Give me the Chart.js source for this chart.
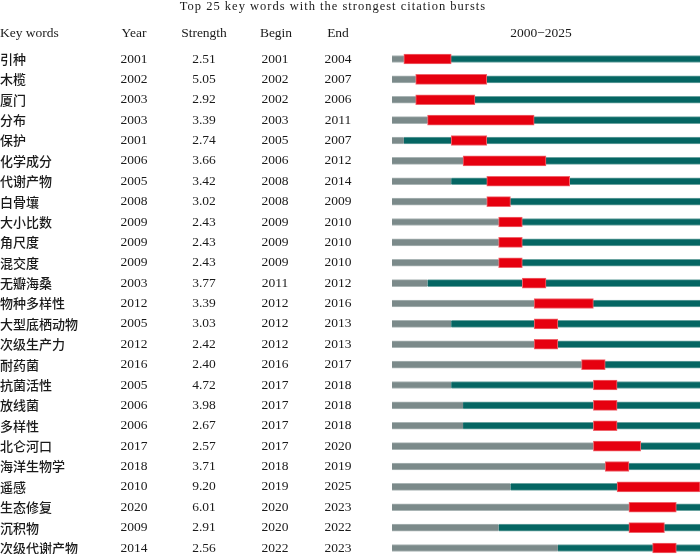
<!DOCTYPE html>
<html>
<head>
<meta charset="utf-8">
<script src="https://cdn.jsdelivr.net/npm/chart.js@4/dist/chart.umd.min.js"></script>
<style>
  html, body { margin: 0; padding: 0; background: #fff; }
  #wrap { width: 700px; height: 554px; }
</style>
</head>
<body>
<div id="wrap"><canvas id="burstChart" width="700" height="554"></canvas></div>
<script>
// keyword burst table
var keywords = ['引种', '木榄', '厦门', '分布', '保护', '化学成分', '代谢产物', '白骨壤', '大小比数', '角尺度',
    '混交度', '无瓣海桑', '物种多样性', '大型底栖动物', '次级生产力', '耐药菌', '抗菌活性', '放线菌', '多样性',
    '北仑河口', '海洋生物学', '遥感', '生态修复', '沉积物', '次级代谢产物'];
var years = [2001, 2002, 2003, 2003, 2001, 2006, 2005, 2008, 2009, 2009, 2009, 2003, 2012, 2005, 2012,
    2016, 2005, 2006, 2006, 2017, 2018, 2010, 2020, 2009, 2014];
var strengths = [2.51, 5.05, 2.92, 3.39, 2.74, 3.66, 3.42, 3.02, 2.43, 2.43, 2.43, 3.77, 3.39, 3.03, 2.42,
    2.40, 4.72, 3.98, 2.67, 2.57, 3.71, 9.20, 6.01, 2.91, 2.56];
var begins = [2001, 2002, 2002, 2003, 2005, 2006, 2008, 2008, 2009, 2009, 2009, 2011, 2012, 2012, 2012,
    2016, 2017, 2017, 2017, 2017, 2018, 2019, 2020, 2020, 2022];
var ends = [2004, 2007, 2006, 2011, 2007, 2012, 2014, 2009, 2010, 2010, 2010, 2012, 2016, 2013, 2013,
    2017, 2018, 2018, 2018, 2020, 2019, 2025, 2023, 2022, 2023];
var firstYear = 2000;
var lastYear = 2025;

var serif = '"Liberation Serif", "DejaVu Serif", serif';
var cjk = '"Noto Sans CJK SC", sans-serif';

// the grey part is before the keyword shows up, teal after, red is the burst
var greyBars = years.map(function (y) { return [firstYear, y]; });
var tealBars = years.map(function (y) { return [y, lastYear + 1]; });
var redBars = begins.map(function (b, i) { return [b, ends[i] + 1]; });

var tablePlugin = {
    id: 'burstTable',
    afterDraw: function (chart) {
        var ctx = chart.ctx;
        var yScale = chart.scales.y;
        ctx.save();
        ctx.fillStyle = '#1a1a1a';
        ctx.textBaseline = 'middle';

        // title
        ctx.font = '12.5px ' + serif;
        ctx.letterSpacing = '1px';
        ctx.textAlign = 'center';
        ctx.fillText('Top 25 key words with the strongest citation bursts', 333, 7);
        ctx.letterSpacing = '0px';

        // header
        ctx.font = '13.5px ' + serif;
        ctx.textAlign = 'left';
        ctx.fillText('Key words', 0, 33);
        ctx.textAlign = 'center';
        ctx.fillText('Year', 134, 33);
        ctx.fillText('Strength', 204, 33);
        ctx.fillText('Begin', 276, 33);
        ctx.fillText('End', 338, 33);
        ctx.fillText(firstYear + '\u2212' + lastYear, 541, 33);

        keywords.forEach(function (k, i) {
            var y = yScale.getPixelForValue(i);
            ctx.font = '500 13px ' + cjk;
            ctx.textAlign = 'left';
            ctx.fillText(k, 0, y);
            ctx.font = '13.5px ' + serif;
            ctx.textAlign = 'center';
            ctx.fillText(String(years[i]), 134, y);
            ctx.fillText(strengths[i].toFixed(2), 204, y);
            ctx.fillText(String(begins[i]), 275, y);
            ctx.fillText(String(ends[i]), 338, y);
        });
        ctx.restore();
    }
};

var chart = new Chart(document.getElementById('burstChart').getContext('2d'), {
    type: 'bar',
    data: {
        labels: keywords,
        datasets: [
            {
                label: 'burst',
                data: redBars,
                backgroundColor: '#e6000f',
                borderColor: '#f0646c',
                borderWidth: 1,
                borderSkipped: false,
                barThickness: 10,
                grouped: false,
                clip: false,
                order: 0
            },
            {
                label: 'after',
                data: tealBars,
                backgroundColor: '#056663',
                borderColor: '#6aa3a0',
                borderWidth: { top: 1, bottom: 1, left: 0, right: 0 },
                borderSkipped: false,
                barThickness: 7,
                grouped: false,
                clip: false,
                order: 1
            },
            {
                label: 'before',
                data: greyBars,
                backgroundColor: '#7b8a8a',
                borderColor: '#aab5b5',
                borderWidth: { top: 1, bottom: 1, left: 0, right: 0 },
                borderSkipped: false,
                barThickness: 7,
                grouped: false,
                clip: false,
                order: 2
            }
        ]
    },
    options: {
        indexAxis: 'y',
        responsive: false,
        animation: false,
        layout: {
            padding: { left: 392, right: 0, top: 59, bottom: 6 }
        },
        plugins: {
            legend: { display: false },
            tooltip: { enabled: false }
        },
        scales: {
            x: {
                type: 'linear',
                min: firstYear,
                max: lastYear + 1,
                display: false
            },
            y: {
                type: 'category',
                offset: false,
                display: false,
                grid: { display: false }
            }
        }
    },
    plugins: [tablePlugin]
});
</script>
</body>
</html>
